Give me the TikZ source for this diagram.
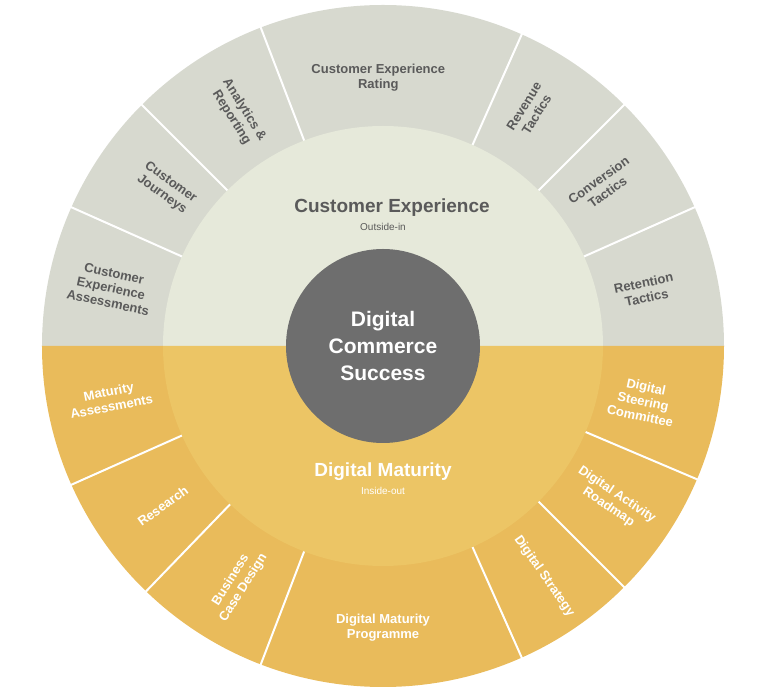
\documentclass[tikz,border=0pt]{standalone}
\usepackage{fontspec}
\setmainfont{Liberation Sans}
\usepackage{tikz}
\definecolor{cxOuter}{HTML}{D7D9CF}
\definecolor{cxInner}{HTML}{E6E9DA}
\definecolor{dmOuter}{HTML}{E9BB5B}
\definecolor{dmInner}{HTML}{ECC565}
\definecolor{hubGrey}{HTML}{6E6E6E}
\definecolor{txtGrey}{HTML}{5A5A5A}
\tikzset{sep/.style={draw, white, line width=2pt}}
\tikzset{lt/.style={font=\fontsize{13}{15}\selectfont\bfseries, txtGrey, align=center}}
\tikzset{lb/.style={font=\fontsize{13}{15}\selectfont\bfseries, white, align=center}}
\begin{document}
\begin{tikzpicture}[x=1pt,y=1pt]
        \useasboundingbox (-383,-346) rectangle (385,346);
        %% rings
        \fill[cxOuter] (0:341) arc (0:180:341) -- cycle;
        \fill[dmOuter] (180:341) arc (180:360:341) -- cycle;
        \foreach \a in {156,135,111,66,45,24,204,226,249,294,315,337}
            \draw[sep] (\a:219) -- (\a:342);
        \fill[cxInner] (0:220) arc (0:180:220) -- cycle;
        \fill[dmInner] (180:220) arc (180:360:220) -- cycle;
        \node (hub) at (0,0) [circle, fill=hubGrey, minimum size=194pt, inner sep=0pt,
            font=\fontsize{21}{27}\selectfont\bfseries, text=white, align=center]
            {Digital\\Commerce\\Success};
        %% inner labels
        \node (cx) at (9,138) [font=\fontsize{19}{21}\selectfont\bfseries, txtGrey] {Customer Experience};
        \node (cxSub) at (0,119) [font=\fontsize{10}{12}\selectfont, txtGrey] {Outside-in};
        \node (dm) at (0,-126) [font=\fontsize{19}{21}\selectfont\bfseries, white] {Digital Maturity};
        \node (dmSub) at (0,-145) [font=\fontsize{10}{12}\selectfont, white] {Inside-out};
        %% top segments
        \node (cea) at (168:278) [lt, rotate=-12] {Customer\\Experience\\Assessments};
        \node (cj) at (144:268) [lt, rotate=-36] {Customer\\Journeys};
        \node (ar) at (122:274) [lt, rotate=-58] {Analytics \&\\Reporting};
        \node (cer) at (91:268) [lt] {Customer Experience\\Rating};
        \node (rt) at (58:278) [lt, rotate=58] {Revenue\\Tactics};
        \node (ct) at (36:272) [lt, rotate=36] {Conversion\\Tactics};
        \node (ret) at (12:268) [lt, rotate=12] {Retention\\Tactics};
        %% bottom segments
        \node (ma) at (191:278) [lb, rotate=11] {Maturity\\Assessments};
        \node (res) at (216:272) [lb, rotate=36] {Research};
        \node (bcd) at (238.5:279) [lb, rotate=58] {Business\\Case Design};
        \node (dmp) at (270:282) [lb] {Digital Maturity\\Programme};
        \node (ds) at (305:281) [lb, rotate=-55] {Digital Strategy};
        \node (dar) at (326:277) [lb, rotate=-34] {Digital Activity\\Roadmap};
        \node (dsc) at (348:266) [lb, rotate=-12] {Digital\\Steering\\Committee};
    \end{tikzpicture}
\end{document}
